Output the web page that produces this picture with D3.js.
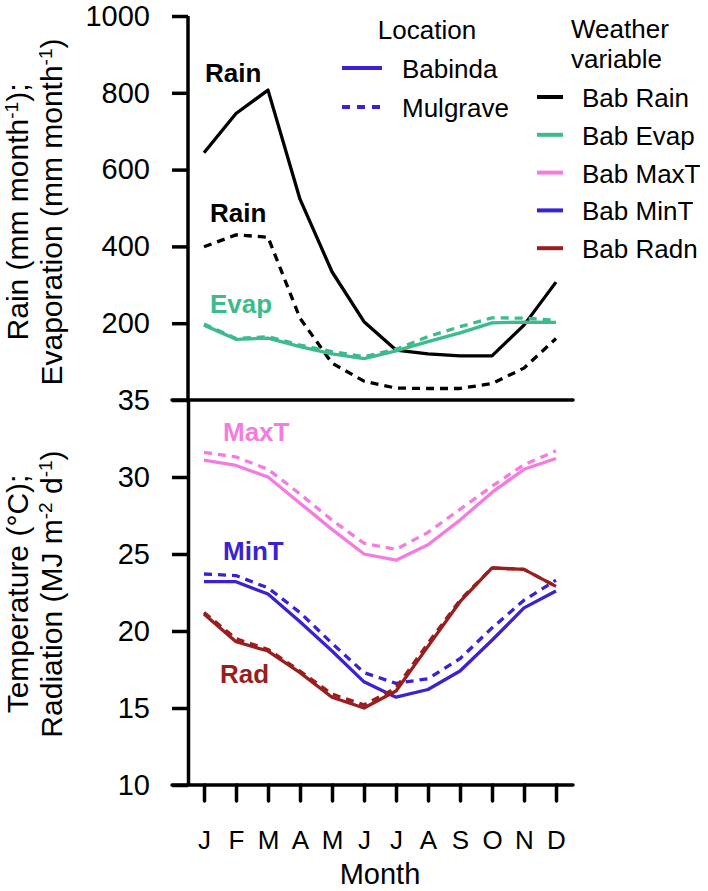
<!DOCTYPE html>
<html>
<head>
<meta charset="utf-8">
<script src="https://cdn.jsdelivr.net/npm/d3@7"></script>
<style>
  html, body { margin: 0; padding: 0; background: #fff; }
  svg { display: block; font-family: "Liberation Sans", Arial, sans-serif; }
</style>
</head>
<body>
<svg id="chart" width="708" height="891"></svg>
<script>
// ---------- data ----------
const months = ["J","F","M","A","M","J","J","A","S","O","N","D"];
const rainTicks = [200, 400, 600, 800, 1000];
const tempTicks = [10, 15, 20, 25, 30, 35];

const babRain = [644, 746, 807, 523, 334, 204, 130, 120, 115, 115, 195, 307];
const mulRain = [399, 430, 424, 213, 96, 49, 31, 30, 30, 43, 83, 160];
const babEvap = [195, 158, 161, 139, 120, 108, 128, 152, 175, 201, 203, 202];
const mulEvap = [198, 160, 165, 143, 126, 113, 132, 165, 191, 214, 213, 208];

const babMaxT = [31.1, 30.75, 30.0, 28.3, 26.6, 25.0, 24.6, 25.6, 27.2, 29.0, 30.5, 31.2];
const mulMaxT = [31.6, 31.3, 30.5, 28.9, 27.2, 25.7, 25.3, 26.4, 27.9, 29.4, 30.8, 31.7];
const babMinT = [23.2, 23.2, 22.4, 20.6, 18.7, 16.7, 15.7, 16.2, 17.4, 19.4, 21.5, 22.6];
const mulMinT = [23.7, 23.6, 22.8, 21.2, 19.2, 17.3, 16.6, 16.9, 18.2, 20.2, 22.0, 23.3];
const babRadn = [21.1, 19.3, 18.7, 17.3, 15.7, 15.0, 16.1, 19.0, 21.9, 24.1, 24.0, 22.9];
const mulRadn = [21.2, 19.5, 18.8, 17.4, 15.9, 15.2, 16.3, 19.2, 22.0, 24.1, 24.0, 22.9];

const locations = ["Babinda", "Mulgrave"];
const variables = ["Bab Rain", "Bab Evap", "Bab MaxT", "Bab MinT", "Bab Radn"];
const colors = { rain: "#000000", evap: "#3dbb8c", maxt: "#f47ce0", mint: "#3a22d4", radn: "#9a1e1e" };

// ---------- layout ----------
const svg = d3.select("#chart");
const axisX = 188;            // y-axis position
const x = d3.scaleLinear().domain([0, 11]).range([204, 556]);
const yTop = d3.scaleLinear().domain([0, 1000]).range([400, 16]);
const yBot = d3.scaleLinear().domain([10, 35]).range([785, 400]);
const frameLeft = axisX - 16, frameRight = x(11) + 17;
const dash = "8,6";

// ---------- axes ----------
function styleAxis(g, fs) {
  g.selectAll("path.domain").attr("stroke", "#000").attr("stroke-width", 3.5);
  g.selectAll(".tick line").attr("stroke", "#000").attr("stroke-width", 3.5);
  g.selectAll(".tick text").attr("fill", "#000").style("font-size", fs + "px")
    .style("font-family", '"Liberation Sans", Arial, sans-serif');
}

const gTop = svg.append("g").attr("transform", `translate(${axisX},0)`)
  .call(d3.axisLeft(yTop).tickValues(rainTicks).tickFormat(d3.format("d"))
    .tickSize(16).tickSizeOuter(0).tickPadding(22));
gTop.select("path.domain").attr("d", `M0,${yTop(0)}V${yTop(1000)}`);
styleAxis(gTop, 29);

const gBot = svg.append("g").attr("transform", `translate(${axisX},0)`)
  .call(d3.axisLeft(yBot).tickValues(tempTicks).tickFormat(d3.format("d"))
    .tickSize(16).tickSizeOuter(0).tickPadding(22));
styleAxis(gBot, 29);

// horizontal frame lines
[yBot(35), yBot(10)].forEach(yy => {
  svg.append("line").attr("x1", frameLeft).attr("x2", frameRight)
    .attr("y1", yy).attr("y2", yy).attr("stroke", "#000").attr("stroke-width", 3.5)
    .attr("stroke-linecap", "round");
});

const gX = svg.append("g").attr("transform", `translate(0,${yBot(10)})`)
  .call(d3.axisBottom(x).tickValues(d3.range(12)).tickFormat(i => months[i])
    .tickSize(16).tickSizeOuter(0).tickPadding(30));
gX.select("path.domain").remove();
styleAxis(gX, 26);
gX.selectAll(".tick line").attr("stroke-linecap", "round");

svg.append("text").attr("x", (x(0) + x(11)) / 2).attr("y", 884)
  .attr("text-anchor", "middle").style("font-size", "29px").text("Month");

// ---------- y titles ----------
function yTitle(cy, lines) {
  const g = svg.append("g").attr("transform", `translate(0,${cy}) rotate(-90)`);
  lines.forEach((parts, i) => {
    const t = g.append("text").attr("x", 0).attr("y", i === 0 ? 28 : 62)
      .attr("text-anchor", "middle").style("font-size", "30px");
    parts.forEach(p => {
      if (p.sup) {
        t.append("tspan").attr("baseline-shift", "super").style("font-size", "19px").text(p.t);
      } else {
        t.append("tspan").text(p.t);
      }
    });
  });
}
yTitle(212, [
  [{t: "Rain (mm month"}, {t: "-1", sup: true}, {t: ");"}],
  [{t: "Evaporation (mm month"}, {t: "-1", sup: true}, {t: ")"}]
]);
yTitle(594, [
  [{t: "Temperature (°C);"}],
  [{t: "Radiation (MJ m"}, {t: "-2", sup: true}, {t: " d"}, {t: "-1", sup: true}, {t: ")"}]
]);

// ---------- lines ----------
function drawLine(vals, yScale, color, dashed) {
  const line = d3.line().x((d, i) => x(i)).y(d => yScale(d));
  svg.append("path").datum(vals).attr("d", line)
    .attr("fill", "none").attr("stroke", color).attr("stroke-width", 3.3)
    .attr("stroke-linejoin", "round")
    .attr("stroke-dasharray", dashed ? dash : null);
}
drawLine(babRain, yTop, colors.rain, false);
drawLine(mulRain, yTop, colors.rain, true);
drawLine(babEvap, yTop, colors.evap, false);
drawLine(mulEvap, yTop, colors.evap, true);
drawLine(babMaxT, yBot, colors.maxt, false);
drawLine(mulMaxT, yBot, colors.maxt, true);
drawLine(babMinT, yBot, colors.mint, false);
drawLine(mulMinT, yBot, colors.mint, true);
drawLine(babRadn, yBot, colors.radn, false);
drawLine(mulRadn, yBot, colors.radn, true);

// ---------- in-plot labels ----------
const inLabels = [
  {t: "Rain", x: 205, y: 82, c: colors.rain},
  {t: "Rain", x: 210, y: 222, c: colors.rain},
  {t: "Evap", x: 210, y: 313, c: colors.evap},
  {t: "MaxT", x: 223, y: 441, c: colors.maxt},
  {t: "MinT", x: 223, y: 560, c: colors.mint},
  {t: "Rad",  x: 220, y: 683, c: colors.radn}
];
inLabels.forEach(l => svg.append("text").attr("x", l.x).attr("y", l.y)
  .attr("fill", l.c).style("font-size", "26px").style("font-weight", "bold").text(l.t));

// ---------- legends ----------
svg.append("text").attr("x", 427).attr("y", 39).attr("text-anchor", "middle")
  .style("font-size", "26px").text("Location");
locations.forEach((name, i) => {
  const yy = 68 + i * 39;
  svg.append("line").attr("x1", 342).attr("x2", 382).attr("y1", yy).attr("y2", yy)
    .attr("stroke", colors.mint).attr("stroke-width", 4)
    .attr("stroke-dasharray", i === 1 ? "8,7" : null);
  svg.append("text").attr("x", 402).attr("y", yy + 10).style("font-size", "26px").text(name);
});

svg.append("text").attr("x", 571).attr("y", 38).style("font-size", "26px").text("Weather");
svg.append("text").attr("x", 571).attr("y", 68).style("font-size", "26px").text("variable");
const varColors = [colors.rain, colors.evap, colors.maxt, colors.mint, colors.radn];
variables.forEach((name, i) => {
  const yy = 97 + i * 37.8;
  svg.append("line").attr("x1", 537).attr("x2", 563).attr("y1", yy).attr("y2", yy)
    .attr("stroke", varColors[i]).attr("stroke-width", 4);
  svg.append("text").attr("x", 582).attr("y", yy + 10).style("font-size", "26px").text(name);
});
</script>
</body>
</html>
